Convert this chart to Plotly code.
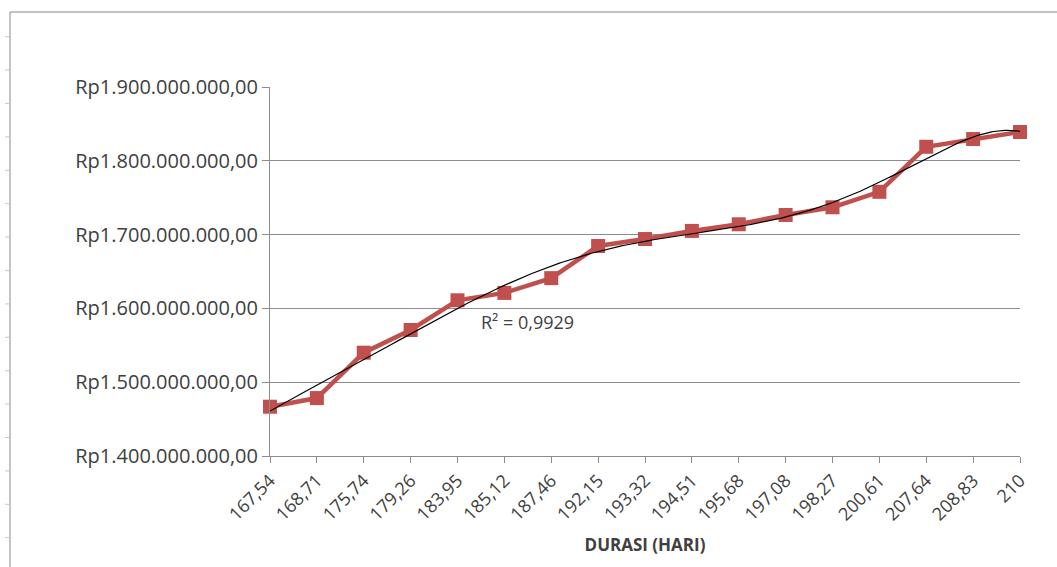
import numpy as np
import plotly.graph_objects as go

# Durasi proyek (hari) dan biaya total (Rp)
durasi = ["167,54", "168,71", "175,74", "179,26", "183,95", "185,12", "187,46",
          "192,15", "193,32", "194,51", "195,68", "197,08", "198,27", "200,61",
          "207,64", "208,83", "210"]
biaya = [1466.8e6, 1478.5e6, 1540.0e6, 1570.7e6, 1611.0e6, 1621.0e6, 1641.0e6,
         1684.6e6, 1694.0e6, 1705.0e6, 1714.0e6, 1726.6e6, 1737.0e6, 1758.0e6,
         1819.0e6, 1829.5e6, 1839.0e6]
y_ticks = [1.4e9, 1.5e9, 1.6e9, 1.7e9, 1.8e9, 1.9e9]
y_labels = ["Rp1.400.000.000,00", "Rp1.500.000.000,00", "Rp1.600.000.000,00",
            "Rp1.700.000.000,00", "Rp1.800.000.000,00", "Rp1.900.000.000,00"]

# polynomial trendline (order 6) over the category index
idx = np.arange(1, len(durasi) + 1)
coef = np.polyfit(idx, np.array(biaya), 6)
xs = np.linspace(1, len(durasi), 400)
trend = np.polyval(coef, xs)

FONT = "Open Sans"
GRID = "#8c8c8c"
TXT = "#404040"

fig = go.Figure()
fig.add_trace(go.Scatter(
    x=idx - 1, y=biaya, mode="lines+markers",
    line=dict(color="#C0504D", width=4.5),
    marker=dict(symbol="square", size=14, color="#C0504D"),
    cliponaxis=False, showlegend=False, hoverinfo="skip"))
fig.add_trace(go.Scatter(
    x=xs - 1, y=trend, mode="lines",
    line=dict(color="black", width=1.2),
    cliponaxis=False, showlegend=False, hoverinfo="skip"))

fig.add_annotation(x=4.45, y=1.581e9, xref="x", yref="y", text="R² = 0,9929",
                   showarrow=False, xanchor="left", yanchor="middle",
                   font=dict(family=FONT, size=18, color=TXT))

fig.update_xaxes(range=[0, len(durasi) - 1], tickmode="array",
                 tickvals=list(range(len(durasi))), ticktext=durasi,
                 tickangle=-45, ticks="outside", ticklen=6, tickcolor=GRID,
                 showline=True, linecolor=GRID, linewidth=1, showgrid=False,
                 zeroline=False,
                 tickfont=dict(family=FONT, size=18, color=TXT),
                 title=dict(text="<b>DURASI (HARI)</b>", standoff=14,
                            font=dict(family=FONT, size=17, color=TXT)))
fig.update_yaxes(range=[1.4e9, 1.9e9], tickmode="array", tickvals=y_ticks,
                 ticktext=y_labels, ticks="outside", ticklen=7, tickcolor=GRID,
                 showline=True, linecolor=GRID, linewidth=1,
                 showgrid=True, gridcolor=GRID, gridwidth=1, zeroline=False,
                 tickfont=dict(family=FONT, size=20, color=TXT))

fig.update_layout(
    width=1057, height=567, margin=dict(l=270, r=37, t=87, b=111),
    plot_bgcolor="white", paper_bgcolor="white",
)

# outer frame lines and row markers along the left edge
fig.add_shape(type="line", xref="paper", yref="paper",
              x0=-260 / 750, x1=1.1, y0=1 + 75 / 369, y1=1 + 75 / 369,
              line=dict(color="#b0b0b0", width=1.5))
fig.add_shape(type="line", xref="paper", yref="paper",
              x0=-260 / 750, x1=-260 / 750, y0=-1, y1=1 + 75 / 369,
              line=dict(color="#b0b0b0", width=1.5))
for k in range(16):
    yp = 36.7 + 33.4 * k
    yy = (456 - yp) / 369
    fig.add_shape(type="line", xref="paper", yref="paper",
                  x0=-265 / 750, x1=-260 / 750, y0=yy, y1=yy,
                  line=dict(color="#c8c8c8", width=1))

fig.write_html("out.html")
